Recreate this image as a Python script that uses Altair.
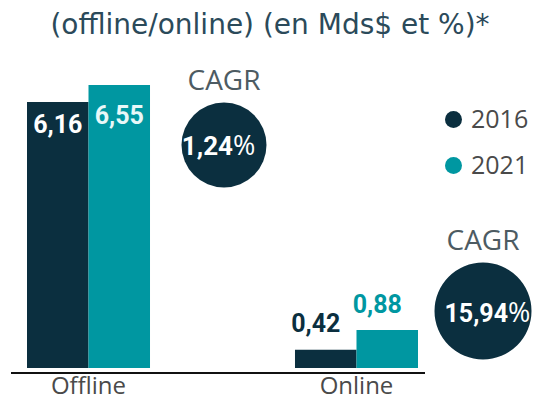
import altair as alt
import pandas as pd

categories = ["Offline", "Online"]
years = ["2016", "2021"]
values_2016 = [6.16, 0.42]
values_2021 = [6.55, 0.88]
cagr = [1.24, 15.94]
title_text = "(offline/online) (en Mds$ et %)*"

DARK = "#0b2f3f"
TEAL = "#0097a1"
GREY = "#4a4a4a"

rows = []
for c, a, b in zip(categories, values_2016, values_2021):
    rows.append({"cat": c, "year": years[0], "value": a})
    rows.append({"cat": c, "year": years[1], "value": b})
df = pd.DataFrame(rows)
df_cat = pd.DataFrame({"cat": categories})
df_cagr = pd.DataFrame({"cat": categories, "cagr": cagr})

fmt = "replace(format(datum.value, '.2f'), '.', ',')"

xscale = alt.Scale(domain=categories, range=[0, 429], paddingInner=0.541, paddingOuter=0.0709)
yscale = alt.Scale(domain=[0, 8.333], nice=False, zero=True)
xoff = alt.XOffset("year:N", scale=alt.Scale(domain=years, paddingInner=0, paddingOuter=0))

base = alt.Chart(df).encode(
    x=alt.X("cat:N", scale=xscale, axis=None),
    xOffset=xoff,
    y=alt.Y("value:Q", scale=yscale, axis=None),
)

bars = base.mark_bar().encode(
    color=alt.Color(
        "year:N",
        scale=alt.Scale(domain=years, range=[DARK, TEAL]),
        legend=alt.Legend(
            title=None, orient="none", legendX=433, legendY=99,
            symbolType="circle", symbolSize=289, symbolStrokeWidth=0,
            labelFontSize=25, labelFont="Open Sans", labelColor=GREY,
            rowPadding=20, labelOffset=5,
        ),
    )
)


def label(cat, year, color, dy, baseline, dx=0, weight="bold"):
    return (
        base.transform_filter((alt.datum.cat == cat) & (alt.datum.year == year))
        .transform_calculate(lbl=fmt)
        .mark_text(font="Roboto", fontSize=25, fontWeight=weight, color=color,
                   dy=dy, dx=dx, baseline=baseline, align="center")
        .encode(text="lbl:N")
    )


lab1 = label("Offline", "2016", "#ffffff", 23, "middle")
lab2 = label("Offline", "2021", "#e8f8f8", 31, "middle")
lab3 = label("Online", "2016", DARK, -18, "alphabetic", dx=-10)
lab4 = label("Online", "2021", TEAL, -17, "alphabetic", dx=-10)

axis_line = alt.Chart(df_cat).mark_rule(color="#111111", strokeWidth=2).encode(
    x=alt.value(3), x2=alt.value(417), y=alt.value(365)
)

cat_labels = alt.Chart(df_cat).mark_text(
    font="Open Sans", fontSize=24, color=GREY, baseline="alphabetic"
).encode(x=alt.X("cat:N", scale=xscale, axis=None), y=alt.value(386), text="cat:N")

title = alt.Chart(df_cat.head(1)).mark_text(
    font="DejaVu Sans", fontSize=28, color="#2b4a5a", baseline="alphabetic", align="center"
).encode(x=alt.value(262), y=alt.value(26), text=alt.value(title_text))


def cagr_group(cat, cx, cy, r, split_x, num_base, cagr_base, num_size):
    src = alt.Chart(df_cagr).transform_filter(alt.datum.cat == cat).transform_calculate(
        lbl="replace(format(datum.cagr, '.2f'), '.', ',')"
    )
    circ = src.mark_circle(color=DARK, opacity=1).encode(
        x=alt.value(cx), y=alt.value(cy), size=alt.value((2 * r) ** 2)
    )
    num = src.mark_text(font="Roboto", fontSize=num_size, fontWeight="bold", color="white",
                        align="right", baseline="alphabetic").encode(
        x=alt.value(split_x), y=alt.value(num_base), text="lbl:N")
    pct = src.mark_text(font="Open Sans", fontSize=27, color="white",
                        align="left", baseline="alphabetic").encode(
        x=alt.value(split_x), y=alt.value(num_base), text=alt.value("%"))
    head = src.mark_text(font="Open Sans", fontSize=28, color="#4d5b62",
                         align="center", baseline="alphabetic").encode(
        x=alt.value(cx), y=alt.value(cagr_base), text=alt.value("CAGR"))
    return [circ, num, pct, head]


g1 = cagr_group("Offline", 216, 137, 42.5, 225, 147, 82, 26)
g2 = cagr_group("Online", 475, 303, 48.5, 500, 314, 242, 25)

chart = alt.layer(
    bars, lab1, lab2, lab3, lab4, axis_line, cat_labels, title, *g1, *g2
).properties(
    width=525, height=360,
    autosize=alt.AutoSizeParams(type="none"),
    padding={"left": 0, "top": 0, "right": 0, "bottom": 33},
).configure_view(stroke=None)

chart.save("out.html", embed_options={"renderer": "svg", "actions": False})
